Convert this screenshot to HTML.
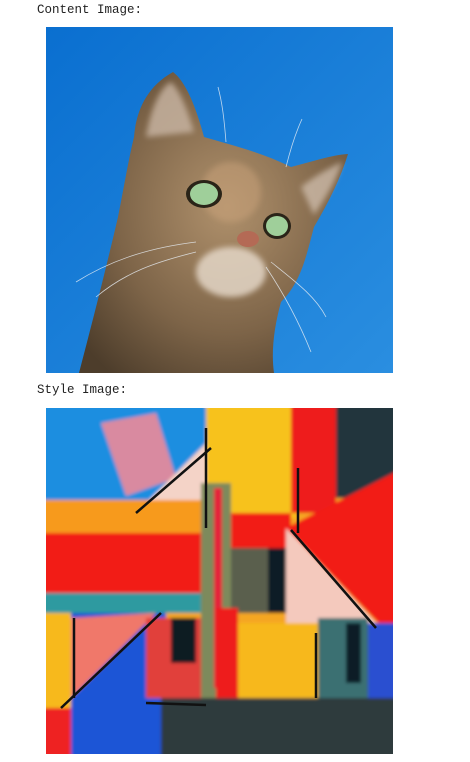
<!DOCTYPE html>
<html><head><meta charset="utf-8"><style>
body{margin:0;width:470px;height:762px;background:#fff;overflow:hidden;position:relative;font-family:"Liberation Mono",monospace;font-size:12.5px;color:#222}
.t{position:absolute;left:37px;white-space:pre}
svg{position:absolute;left:46px;width:347px;height:346px}
</style></head><body>
<div class="t" style="top:3px">Content Image:</div>
<svg style="top:27px" viewBox="0 0 347 346">
<defs>
<linearGradient id="sky" x1="0" y1="0" x2="1" y2="1"><stop offset="0" stop-color="#0a6fd0"/><stop offset="1" stop-color="#2a8ee0"/></linearGradient>
<radialGradient id="fur" cx="0.55" cy="0.45" r="0.7"><stop offset="0" stop-color="#b0916c"/><stop offset="0.6" stop-color="#7d6448"/><stop offset="1" stop-color="#4d3d2b"/></radialGradient>
<filter id="bl"><feGaussianBlur stdDeviation="3"/></filter>
</defs>
<rect width="347" height="346" fill="url(#sky)"/>
<path d="M33 346 C45 300 58 250 72 190 C78 160 82 135 88 110 C90 85 100 60 127 45 C140 55 150 80 158 110 C185 118 215 125 245 140 C265 135 285 128 302 127 C295 150 283 175 268 200 C260 230 255 255 235 275 C228 300 225 325 228 346 Z" fill="url(#fur)"/>
<path d="M100 110 C105 80 115 60 125 55 C135 65 142 85 148 105 Z" fill="#c9b6a4" opacity="0.8" filter="url(#bl)"/>
<path d="M255 160 C270 148 285 140 296 135 C290 155 280 170 268 188 Z" fill="#d6c5b5" opacity="0.7" filter="url(#bl)"/>
<ellipse cx="185" cy="245" rx="35" ry="25" fill="#e8dccd" opacity="0.8" filter="url(#bl)"/>
<ellipse cx="185" cy="165" rx="30" ry="30" fill="#c9a27a" opacity="0.5" filter="url(#bl)"/>
<ellipse cx="158" cy="167" rx="18" ry="14" fill="#2a2418"/>
<ellipse cx="158" cy="167" rx="14" ry="11" fill="#9fcf9a"/>
<ellipse cx="231" cy="199" rx="14" ry="13" fill="#2a2418"/>
<ellipse cx="231" cy="199" rx="11" ry="10" fill="#9fcf9a"/>
<ellipse cx="202" cy="212" rx="11" ry="8" fill="#b46a55"/>
<g stroke="#e8eef4" stroke-width="0.8" fill="none" opacity="0.8">
<path d="M150 215 C110 220 70 230 30 255"/><path d="M150 225 C110 235 80 245 50 270"/><path d="M220 240 C240 270 255 300 265 325"/><path d="M225 235 C250 255 270 270 280 290"/>
<path d="M180 115 C178 90 176 75 172 60"/><path d="M240 140 C245 120 250 105 256 92"/>
</g>
</svg>
<div class="t" style="top:383px">Style Image:</div>
<svg style="top:408px" viewBox="0 0 347 346">
<defs><filter id="b2" x="-5%" y="-5%" width="110%" height="110%"><feGaussianBlur stdDeviation="1.5"/></filter>
<clipPath id="c2"><rect width="347" height="346"/></clipPath></defs>
<rect width="347" height="346" fill="#f5a623"/>
<g filter="url(#b2)" clip-path="url(#c2)">
<rect x="-10" y="-10" width="367" height="366" fill="#f5a623"/>
<rect x="-10" y="-10" width="170" height="102" fill="#1f8ee0"/>
<polygon points="55,15 110,5 130,70 80,88" fill="#d98aa0"/>
<rect x="160" y="-10" width="90" height="120" fill="#f7c21a"/>
<rect x="245" y="-10" width="45" height="115" fill="#ee1d1d"/>
<rect x="290" y="-10" width="67" height="100" fill="#23343e"/>
<polygon points="90,105 160,35 160,108" fill="#f4d3c7"/>
<rect x="-10" y="92" width="170" height="33" fill="#f79a1e"/>
<rect x="-10" y="125" width="170" height="60" fill="#f21a17"/>
<rect x="155" y="75" width="30" height="255" fill="#7d8a5c"/>
<rect x="168" y="80" width="8" height="200" fill="#e5243a"/>
<rect x="185" y="105" width="60" height="35" fill="#f21a17"/>
<rect x="185" y="140" width="55" height="65" fill="#5a5f4e"/>
<rect x="222" y="140" width="18" height="65" fill="#0e1a26"/>
<polygon points="240,120 330,215 240,215" fill="#f4c9bd"/>
<polygon points="357,60 240,120 357,240" fill="#f21a17"/>
<rect x="-10" y="185" width="165" height="20" fill="#2f9aa0"/>
<rect x="-10" y="205" width="35" height="95" fill="#f7b91e"/>
<rect x="-10" y="300" width="35" height="56" fill="#ee2020"/>
<rect x="25" y="205" width="95" height="151" fill="#1c55d6"/>
<polygon points="25,210 110,205 25,290" fill="#f0786a"/>
<rect x="100" y="210" width="55" height="80" fill="#e1413a"/>
<rect x="125" y="210" width="25" height="45" fill="#101b24"/>
<rect x="170" y="200" width="22" height="90" fill="#ee1d1d"/>
<rect x="192" y="215" width="80" height="75" fill="#f7b81a"/>
<rect x="272" y="210" width="50" height="80" fill="#3a6f72"/>
<rect x="300" y="215" width="15" height="60" fill="#0e1a26"/>
<rect x="322" y="215" width="35" height="75" fill="#2a4fd0"/>
<rect x="115" y="290" width="242" height="66" fill="#2d3a3c"/>
</g>
<g stroke="#111" stroke-width="2.5" fill="none">
<line x1="90" y1="105" x2="165" y2="40"/><line x1="245" y1="122" x2="330" y2="220"/>
<line x1="15" y1="300" x2="115" y2="205"/><line x1="28" y1="210" x2="28" y2="290"/>
<line x1="160" y1="20" x2="160" y2="120"/><line x1="252" y1="60" x2="252" y2="125"/>
<line x1="270" y1="225" x2="270" y2="290"/><line x1="100" y1="295" x2="160" y2="297"/>
</g>
</svg>
</body></html>
